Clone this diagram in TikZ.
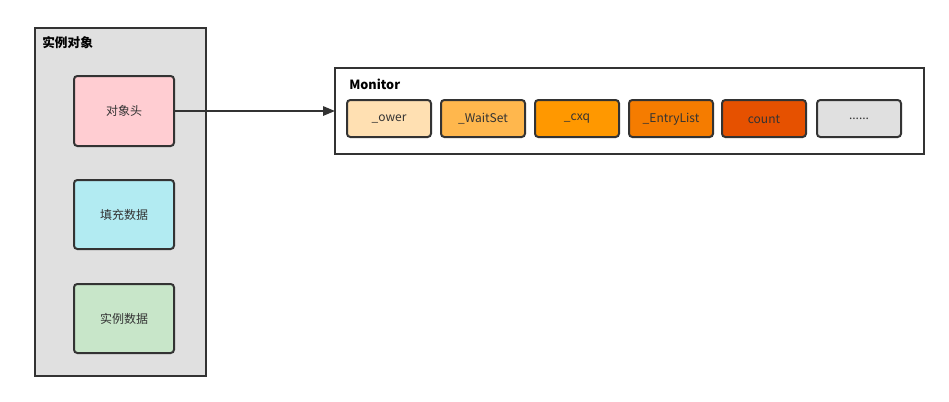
\documentclass[tikz,border=0pt]{standalone}
\usepackage{fontspec}
\setmainfont{Noto Sans CJK SC}
\usetikzlibrary{arrows.meta}
\definecolor{strk}{HTML}{333333}
\definecolor{txt}{HTML}{333333}
\tikzset{
  px/.style={x=0.75pt,y=-0.75pt},
  container/.style={draw=strk,line width=1.5pt},
  cell/.style={draw=strk,line width=1.5pt,rounded corners=2.5pt,text=txt,font=\fontsize{9}{11}\selectfont},
  title/.style={anchor=west,font=\bfseries\fontsize{9.5}{11}\selectfont,text=black,inner sep=0pt},
}
\begin{document}
\begin{tikzpicture}[px]
\useasboundingbox (0,0) rectangle (949,401);
% instance object container
\path[container,fill={rgb,255:red,224;green,224;blue,224}] (35,28) rectangle (206,376);
\node[title] (t1) at (42,43) {实例对象};
\path[cell,fill={rgb,255:red,255;green,205;blue,210}] (74,76) rectangle (174,146);
\node[text=txt,font=\fontsize{9}{11}\selectfont] (head) at (124,111) {对象头};
\path[cell,fill={rgb,255:red,178;green,235;blue,242}] (74,180) rectangle (174,249);
\node[text=txt,font=\fontsize{9}{11}\selectfont] (pad) at (124,214.5) {填充数据};
\path[cell,fill={rgb,255:red,200;green,230;blue,201}] (74,284) rectangle (174,353);
\node[text=txt,font=\fontsize{9}{11}\selectfont] (data) at (124,318.5) {实例数据};
\coordinate (headE) at (174,111);
% monitor container
\path[container,line width=1.2pt,fill=white] (335,68) rectangle (924,154);
\coordinate (monW) at (335,111);
\node[title] (t2) at (349,84) {Monitor};
\path[cell,fill={rgb,255:red,255;green,224;blue,178}] (347,100) rectangle (431,137);
\node[text=txt,font=\fontsize{9}{11}\selectfont] (c1) at (389,119) {\_ower};
\path[cell,fill={rgb,255:red,255;green,183;blue,77}] (441,100) rectangle (525,137);
\node[text=txt,font=\fontsize{9}{11}\selectfont] (c2) at (483,119) {\_WaitSet};
\path[cell,fill={rgb,255:red,255;green,152;blue,0}] (535,100) rectangle (619,137);
\node[text=txt,font=\fontsize{9}{11}\selectfont] (c3) at (577,119) {\_cxq};
\path[cell,fill={rgb,255:red,245;green,124;blue,0}] (629,100) rectangle (713,137);
\node[text=txt,font=\fontsize{9}{11}\selectfont] (c4) at (671,119) {\_EntryList};
\path[cell,fill={rgb,255:red,230;green,81;blue,0}] (722,100) rectangle (806,137);
\node[text=txt,font=\fontsize{9}{11}\selectfont] (c5) at (764,119) {count};
\path[cell,fill={rgb,255:red,224;green,224;blue,224}] (817,100) rectangle (901,137);
\node[text=txt,font=\fontsize{9}{11}\selectfont] (c6) at (859,119) {......};
% connector
\draw[strk,line width=1.5pt,-{Triangle[length=9pt,width=7pt]}] (headE) -- (monW);
\end{tikzpicture}
\end{document}
